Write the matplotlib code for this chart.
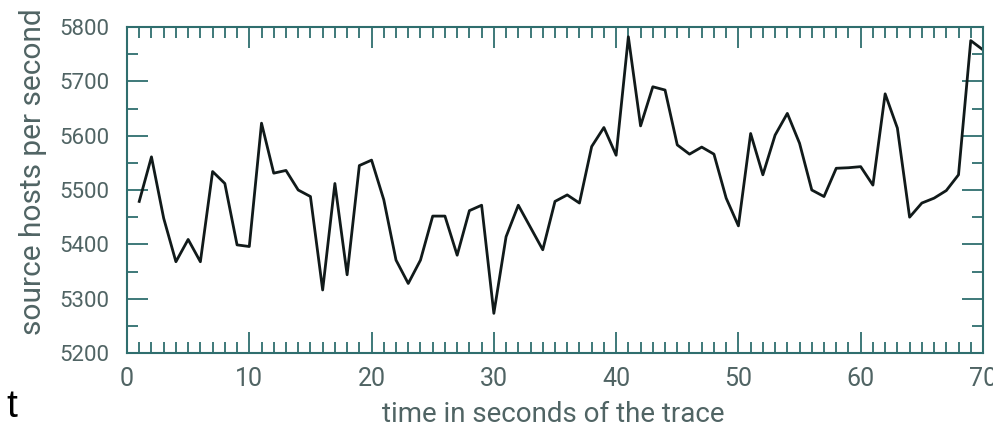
import numpy as np
import matplotlib
matplotlib.use("Agg")
import matplotlib.pyplot as plt
from matplotlib.ticker import MultipleLocator

# source hosts seen in each second of the trace
seconds = list(range(1, 71))
hosts = [
    5479, 5561, 5448, 5368, 5409, 5368, 5534, 5512, 5399, 5396,
    5623, 5531, 5536, 5500, 5488, 5316, 5512, 5344, 5545, 5555,
    5482, 5371, 5328, 5371, 5452, 5452, 5380, 5462, 5472, 5273,
    5414, 5472, 5431, 5390, 5479, 5491, 5476, 5580, 5615, 5564,
    5782, 5618, 5690, 5684, 5583, 5566, 5579, 5566, 5485, 5434,
    5604, 5528, 5601, 5641, 5586, 5500, 5488, 5540, 5541, 5543,
    5509, 5677, 5614, 5450, 5476, 5485, 5499, 5528, 5775, 5758,
]
x_ticks = [0, 10, 20, 30, 40, 50, 60, 70]
y_ticks = [5200, 5300, 5400, 5500, 5600, 5700, 5800]

axis_col = "#2f6e6e"
text_col = "#506464"
label_font = dict(family="Roboto", weight="normal")

fig = plt.figure(figsize=(9.93, 4.37), dpi=100)
ax = fig.add_axes([0.1279, 0.1922, 0.862, 0.746])

ax.plot(seconds, hosts, color="#111a1a", lw=2.0)

ax.set_xlim(0, 70)
ax.set_ylim(5200, 5800)
ax.set_xticks(x_ticks)
ax.set_yticks(y_ticks)
ax.xaxis.set_minor_locator(MultipleLocator(1))
ax.yaxis.set_minor_locator(MultipleLocator(50))

ax.tick_params(which="both", direction="in", top=True, right=True,
               color=axis_col, width=1.3, labelcolor=text_col)
ax.tick_params(which="major", length=15)
ax.tick_params(which="minor", length=8)
ax.tick_params(axis="x", pad=10)
ax.tick_params(axis="y", pad=13)
for lab in ax.get_xticklabels():
    lab.set(fontsize=18, **label_font)
for lab in ax.get_yticklabels():
    lab.set(fontsize=16, **label_font)
for sp in ax.spines.values():
    sp.set_color(axis_col)
    sp.set_linewidth(1.5)

ax.set_xlabel("time in seconds of the trace", color=text_col, fontsize=20, **label_font)
ax.set_ylabel("source hosts per second", color=text_col, fontsize=21.5, **label_font)
ax.xaxis.set_label_coords(0.4977, -0.146)
ax.yaxis.set_label_coords(-0.093, 0.555)

# stray caption letter in the lower left corner
fig.text(0.006, 0.045, "t", fontsize=28, color="black", family="Liberation Sans")

fig.savefig("out.png", dpi=100)
